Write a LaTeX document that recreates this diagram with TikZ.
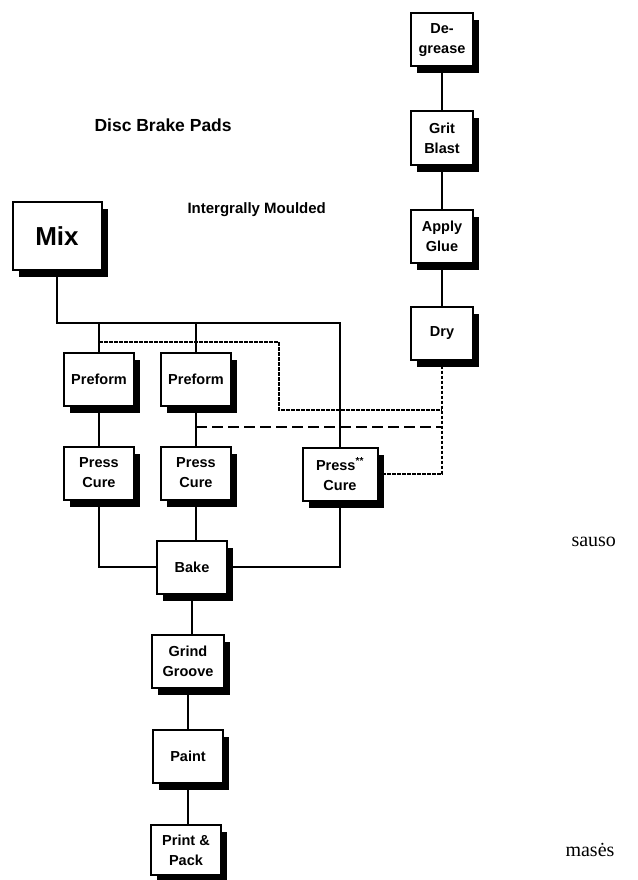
\documentclass[tikz,border=0pt]{standalone}
\usepackage{fontspec}
\setmainfont{Liberation Serif}
\setsansfont{Liberation Sans}
\usetikzlibrary{shadows}

\begin{document}
\begin{tikzpicture}[x=1pt, y=-1pt,
    stage/.style={draw, line width=2pt, fill=white, align=center, inner sep=0pt,
        minimum width=70pt, minimum height=53pt,
        font=\sffamily\bfseries\fontsize{14.5}{20}\selectfont,
        drop shadow={shadow xshift=6pt, shadow yshift=-7pt, fill=black, opacity=1}},
    link/.style={line width=2.8pt},
    finedash/.style={line width=1.5pt, dash pattern=on 3.5pt off 1.5pt},
    longdash/.style={line width=1.8pt, dash pattern=on 11pt off 5pt}]
    \useasboundingbox (0,0) rectangle (637,880);
    % titles
    \node[anchor=west, font=\sffamily\bfseries\fontsize{17.5}{20}\selectfont] (title) at (91,125) {Disc Brake Pads};
    \node[anchor=west, font=\sffamily\bfseries\fontsize{15}{17}\selectfont] (subtitle) at (184,210) {Intergrally Moulded};
    % plate line
    \node[stage, minimum width=62pt] (degrease) at (442,40) {De-\\grease};
    \node[stage, minimum width=62pt] (gritblast) at (442,138) {Grit\\Blast};
    \node[stage, minimum width=62pt] (applyglue) at (442,236) {Apply\\Glue};
    \node[stage, minimum width=62pt] (dry) at (442,333) {Dry};
    % mix line
    \node[stage, minimum width=89pt, minimum height=68pt, font=\sffamily\bfseries\fontsize{26}{28}\selectfont] (mix) at (57,236) {Mix};
    \node[stage] (preform1) at (99,379) {Preform};
    \node[stage] (preform2) at (196,379) {Preform};
    \node[stage] (presscure1) at (99,473) {Press\\Cure};
    \node[stage] (presscure2) at (196,473) {Press\\Cure};
    \node[stage, minimum width=75pt] (presscure3) at (340,474) {Press\textsuperscript{**}\\Cure};
    \node[stage] (bake) at (192,567) {Bake};
    \node[stage, minimum width=72pt] (grind) at (188,661) {Grind\\Groove};
    \node[stage] (paint) at (188,756) {Paint};
    \node[stage, minimum height=50pt] (printpack) at (186,850) {Print \&\\Pack};
    % side words
    \node[anchor=west, font=\fontsize{20}{22}\selectfont] (sauso) at (568,542) {sauso};
    \node[anchor=west, font=\fontsize{20}{22}\selectfont] (mases) at (562,850) {masės};
    % solid connectors
    \coordinate (busL) at (57,323);
    \coordinate (busR) at (340,323);
    \draw[link] (degrease) -- (gritblast) -- (applyglue) -- (dry);
    \draw[link] (mix.south) -- (busL) -- (busR) -- (presscure3.north);
    \draw[link] (preform1.north |- busL) -- (preform1.north);
    \draw[link] (preform2.north |- busL) -- (preform2.north);
    \draw[link] (preform1) -- (presscure1);
    \draw[link] (preform2) -- (presscure2);
    \draw[link] (presscure1.south) |- (bake.west);
    \draw[link] (presscure3.south) |- (bake.east);
    \draw[link] (presscure2.south) -- (presscure2.south |- bake.north);
    \draw[link] (bake.south) -- (bake.south |- grind.north);
    \draw[link] (grind) -- (paint);
    \draw[link] (paint.south) -- (paint.south |- printpack.north);
    % dashed connectors
    \coordinate (dstart) at (99,342);
    \coordinate (dcorner1) at (279,342);
    \coordinate (dcorner2) at (279,410);
    \coordinate (lstart) at (196,427);
    \draw[finedash] (dstart) -- (dcorner1) -- (dcorner2) -- (dcorner2 -| dry.south);
    \draw[finedash] (dry.south) |- (presscure3.east);
    \draw[longdash] (lstart) -- (lstart -| dry.south);
\end{tikzpicture}
\end{document}
